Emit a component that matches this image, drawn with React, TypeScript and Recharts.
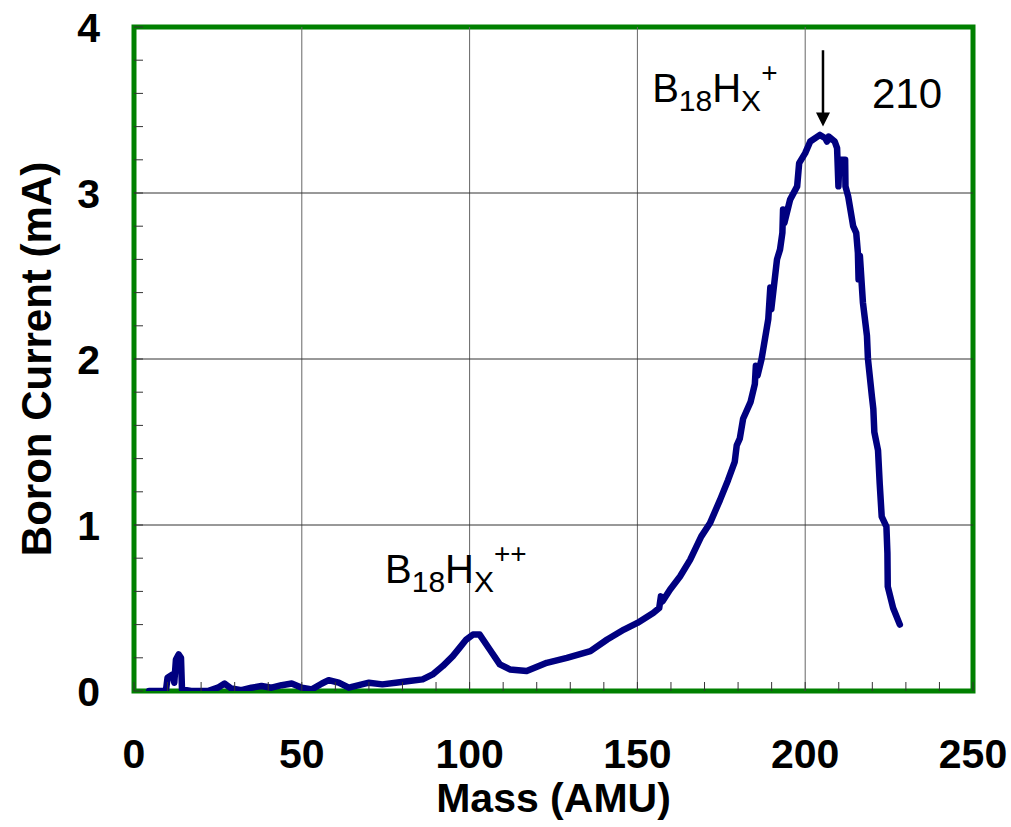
import {
  LineChart,
  Line,
  XAxis,
  YAxis,
  ReferenceLine,
  ReferenceArea,
  ReferenceDot,
} from 'recharts'

// mass spectrum of the boron beam
const massAmu = [
  4.5, 9.5, 10, 11.5, 12, 12.5, 13.3, 14, 14.3, 17, 22, 25, 27, 29, 32, 35, 38, 41, 44, 47,
  50, 53, 56, 58, 61, 64, 67, 70, 74, 78, 82, 86, 89, 92, 95, 97, 99, 101, 103, 106,
  109, 112, 117, 123, 129, 136, 141, 146, 150, 154.7, 156.5, 157, 157.5, 159.7, 162.7, 165.7, 169, 171.6, 174.6, 177,
  179, 179.6, 180.5, 181.5, 183.7, 185, 185.3, 185.8, 187, 189, 189.6, 189.9, 191.6, 192.5, 193.2, 193.4, 193.8, 195.5, 197.6, 198.2,
  200, 201.5, 204.4, 206, 206.5, 207, 208.8, 209.5, 209.9, 210.2, 211.9, 212, 212.8, 214.3, 215.2, 215.7, 215.9, 216.3, 217.2, 218.4,
  218.7, 219.9, 220.3, 220.6, 221.7, 222.2, 222.8, 224.2, 224.5, 224.6, 226.2, 228.2,
]
const boronCurrentMa = [
  0, 0, 0.08, 0.1, 0.05, 0.19, 0.22, 0.2, 0.01, 0, 0, 0.02, 0.045, 0.015, 0.005, 0.02, 0.03, 0.02, 0.035, 0.045,
  0.02, 0.01, 0.045, 0.065, 0.05, 0.02, 0.035, 0.05, 0.04, 0.05, 0.06, 0.07, 0.1, 0.15, 0.21, 0.26, 0.31, 0.34, 0.34, 0.25,
  0.16, 0.13, 0.12, 0.17, 0.2, 0.24, 0.31, 0.37, 0.41, 0.47, 0.5, 0.57, 0.54, 0.61, 0.69, 0.79, 0.93, 1.01, 1.15, 1.27,
  1.38, 1.48, 1.52, 1.64, 1.74, 1.85, 1.96, 1.9, 2.0, 2.24, 2.43, 2.3, 2.6, 2.66, 2.76, 2.9, 2.82, 2.96, 3.04, 3.18,
  3.24, 3.31, 3.35, 3.33, 3.31, 3.34, 3.31, 3.27, 3.04, 3.2, 3.2, 3.04, 2.98, 2.8, 2.76, 2.64, 2.48, 2.62, 2.34, 2.14,
  2.0, 1.77, 1.7, 1.56, 1.45, 1.25, 1.05, 0.99, 0.83, 0.63, 0.5, 0.4,
]

const massTicks = [
  0, 10, 20, 30, 40, 50, 60, 70, 80, 90, 100, 110, 120, 130, 140, 150, 160, 170, 180, 190, 200, 210, 220, 230, 240, 250,
]
const currentTicks = [
  0, 0.2, 0.4, 0.6, 0.8, 1, 1.2, 1.4, 1.6, 1.8, 2, 2.2, 2.4, 2.6, 2.8, 3, 3.2, 3.4, 3.6, 3.8, 4,
]
const massGrid = [50, 100, 150, 200]
const currentGrid = [1, 2, 3]

const data = massAmu.map((m, i) => ({ mass: m, current: boronCurrentMa[i] }))

const FONT = '"Liberation Sans", Arial, sans-serif'

function MassTick({ x, y, payload }: any) {
  const v = payload.value
  return (
    <g>
      <line x1={x} x2={x} y1={y} y2={y - 9} stroke="#333" strokeWidth={1} />
      {v % 50 === 0 && (
        <text x={x} y={y + 77} textAnchor="middle" fontFamily={FONT} fontWeight="bold" fontSize={41} fill="#000">
          {v}
        </text>
      )}
    </g>
  )
}

function CurrentTick({ x, y, payload }: any) {
  const v = payload.value
  return (
    <g>
      <line x1={x} x2={x + 9} y1={y} y2={y} stroke="#333" strokeWidth={1} />
      {Number.isInteger(v) && (
        <text x={x - 34} y={y + 15} textAnchor="end" fontFamily={FONT} fontWeight="bold" fontSize={41} fill="#000">
          {v}
        </text>
      )}
    </g>
  )
}

function MassTitle({ viewBox }: any) {
  const { x, y, width } = viewBox
  return (
    <text x={x + width / 2} y={y + 121} textAnchor="middle" fontFamily={FONT} fontWeight="bold" fontSize={41} fill="#000">
      Mass (AMU)
    </text>
  )
}

function CurrentTitle({ viewBox }: any) {
  const cy = viewBox.y + viewBox.height / 2
  return (
    <text
      x={51}
      y={cy}
      transform={`rotate(-90, 51, ${cy})`}
      textAnchor="middle"
      fontFamily={FONT}
      fontWeight="bold"
      fontSize={42}
      fill="#000"
    >
      Boron Current (mA)
    </text>
  )
}

function IonLabel({ cx, cy, charge }: any) {
  return (
    <text x={cx} y={cy} fontFamily={FONT} fontSize={40} fill="#000">
      B
      <tspan fontSize={30} dy={9}>18</tspan>
      <tspan fontSize={40} dy={-9}>H</tspan>
      <tspan fontSize={30} dy={9}>X</tspan>
      <tspan fontSize={28} dy={-29}>{charge}</tspan>
    </text>
  )
}

export default function App() {
  return (
    <div style={{ position: 'absolute', left: 0, top: 0, width: 1011, height: 827, background: '#fff' }}>
      <LineChart width={1011} height={827} data={data} margin={{ top: 27, right: 38, bottom: 0, left: 0 }}>
        <XAxis
          type="number"
          dataKey="mass"
          domain={[0, 250]}
          ticks={massTicks}
          interval={0}
          height={136}
          tickSize={0}
          tickMargin={0}
          tickLine={false}
          axisLine={false}
          tick={(p: any) => <MassTick {...p} />}
          label={<MassTitle />}
          allowDataOverflow
        />
        <YAxis
          type="number"
          domain={[0, 4]}
          ticks={currentTicks}
          interval={0}
          width={134}
          tickSize={0}
          tickMargin={0}
          tickLine={false}
          axisLine={false}
          tick={(p: any) => <CurrentTick {...p} />}
          label={<CurrentTitle />}
          allowDataOverflow
        />
        {massGrid.map((m) => (
          <ReferenceLine key={`gx${m}`} x={m} stroke="#666" strokeWidth={1} />
        ))}
        {currentGrid.map((c) => (
          <ReferenceLine key={`gy${c}`} y={c} stroke="#333" strokeWidth={1} />
        ))}
        <ReferenceArea x1={0} x2={250} y1={0} y2={4} fill="none" stroke="#008000" strokeWidth={5} ifOverflow="visible" />
        <Line
          type="linear"
          dataKey="current"
          stroke="#000080"
          strokeWidth={6.5}
          strokeLinejoin="round"
          strokeLinecap="round"
          dot={false}
          isAnimationActive={false}
        />
        <ReferenceLine
          segment={[
            { x: 205.3, y: 3.86 },
            { x: 205.3, y: 3.46 },
          ]}
          stroke="#000"
          strokeWidth={2.5}
          ifOverflow="visible"
        />
        <ReferenceDot
          x={205.3}
          y={3.4}
          r={1}
          ifOverflow="visible"
          shape={(p: any) => (
            <polygon points={`${p.cx - 7},${p.cy - 14} ${p.cx + 7},${p.cy - 14} ${p.cx},${p.cy}`} fill="#000" />
          )}
        />
        <ReferenceDot x={154.4} y={3.548} r={1} ifOverflow="visible" shape={(p: any) => <IonLabel {...p} charge="+" />} />
        <ReferenceDot
          x={219.9}
          y={3.512}
          r={1}
          ifOverflow="visible"
          shape={(p: any) => (
            <text x={p.cx} y={p.cy} fontFamily={FONT} fontSize={42} fill="#000">
              210
            </text>
          )}
        />
        <ReferenceDot x={74.8} y={0.651} r={1} ifOverflow="visible" shape={(p: any) => <IonLabel {...p} charge="++" />} />
      </LineChart>
    </div>
  )
}
